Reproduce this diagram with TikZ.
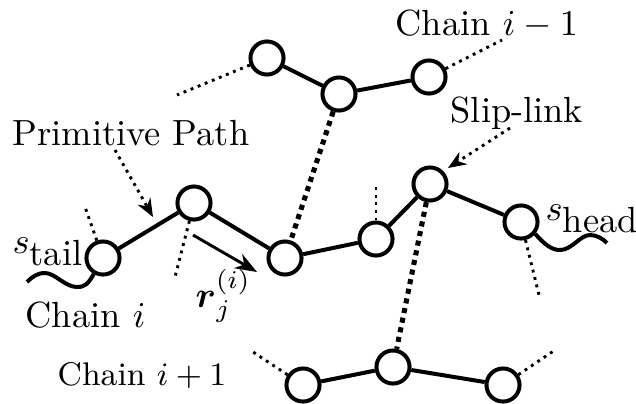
\documentclass[tikz,border=0pt]{standalone}
\usepackage{amsmath}
\usetikzlibrary{arrows.meta}
\begin{document}
\begin{tikzpicture}[x=0.275pt,y=-0.275pt,
  bead/.style={circle,draw,line width=1.1pt,fill=white,minimum size=9.1pt,inner sep=0pt},
  bond/.style={line width=1.1pt},
  link/.style={line width=1.4pt,dash pattern=on 1.4pt off 1.3pt},
  tick/.style={line width=0.8pt,dash pattern=on 0.8pt off 1.3pt},
  ptr/.style={line width=0.8pt,dash pattern=on 0.8pt off 1.3pt,-{Stealth[length=5pt,width=4pt]}},
  vec/.style={line width=0.8pt,-{Stealth[length=6pt,width=4.5pt]}},
  wave/.style={line width=1.1pt},
  lbl/.style={anchor=base west,inner sep=0pt}]
\useasboundingbox (0,0) rectangle (636,403);
% Chain i
\node[bead] (A) at (103,258) {};
\node[bead] (B) at (194,203) {};
\node[bead] (C) at (285,258) {};
\node[bead] (D) at (376,239) {};
\node[bead] (E) at (430,184) {};
\node[bead] (F) at (521,222) {};
% Chain i-1
\node[bead] (G) at (267,58) {};
\node[bead] (H) at (339,94) {};
\node[bead] (I) at (429,77) {};
% Chain i+1
\node[bead] (J) at (303,385) {};
\node[bead] (K) at (393,367) {};
\node[bead] (L) at (503,385) {};
% bonds
\draw[bond] (A) -- (B) -- (C) -- (D) -- (E) -- (F);
\draw[bond] (G) -- (H) -- (I);
\draw[bond] (J) -- (K) -- (L);
% slip-links between chains
\draw[link] (H) -- (C);
\draw[link] (E) -- (K);
% short dotted ticks
\coordinate (tA) at (85,207);
\coordinate (tB) at (175,277);
\coordinate (tD) at (376,185);
\coordinate (tF) at (539,295);
\coordinate (tG) at (177,95);
\coordinate (tI) at (502,40);
\coordinate (tJ) at (250,350);
\coordinate (tL) at (555,350);
\draw[tick] (A) -- (tA);
\draw[tick] (B) -- (tB);
\draw[tick] (D) -- (tD);
\draw[tick] (F) -- (tF);
\draw[tick] (G) -- (tG);
\draw[tick] (I) -- (tI);
\draw[tick] (J) -- (tJ);
\draw[tick] (L) -- (tL);
% wavy ends
\coordinate (wt) at (27,282);
\coordinate (wh) at (607,243);
\draw[wave] (A.240) .. controls (88,284) and (85,287) .. (77,287)
  .. controls (65,287) and (55,273) .. (45,273)
  .. controls (37,273) and (32,277) .. (wt);
\draw[wave] (F.-40) .. controls (545,245) and (552,250) .. (560,250)
  .. controls (572,250) and (580,235) .. (590,235)
  .. controls (597,235) and (603,239) .. (wh);
% labels
\node[lbl] (pp) at (12,145) {Primitive Path};
\node[lbl] (sl) at (450,122) {Slip-link};
\node[lbl] (cim) at (395,35) {Chain $i-1$};
\node[lbl] (ci) at (25,327) {Chain $i$};
\node[lbl] (cip) at (57,385) {\small Chain $i+1$};
\node[lbl] (st) at (12,253) {$s_{\hbox{tail}}$};
\node[lbl] (sh) at (545,220) {$s_{\hbox{head}}$};
\node[lbl] (rv) at (195,307) {$\boldsymbol{r}_j^{(i)}$};
% arrows
\coordinate (p0) at (115,150);
\coordinate (p1) at (153,217);
\coordinate (s0) at (510,128);
\coordinate (s1) at (448,168);
\coordinate (r0) at (193,235);
\coordinate (r1) at (257,272);
\draw[ptr] (p0) -- (p1);
\draw[ptr] (s0) -- (s1);
\draw[vec] (r0) -- (r1);
\end{tikzpicture}
\end{document}
